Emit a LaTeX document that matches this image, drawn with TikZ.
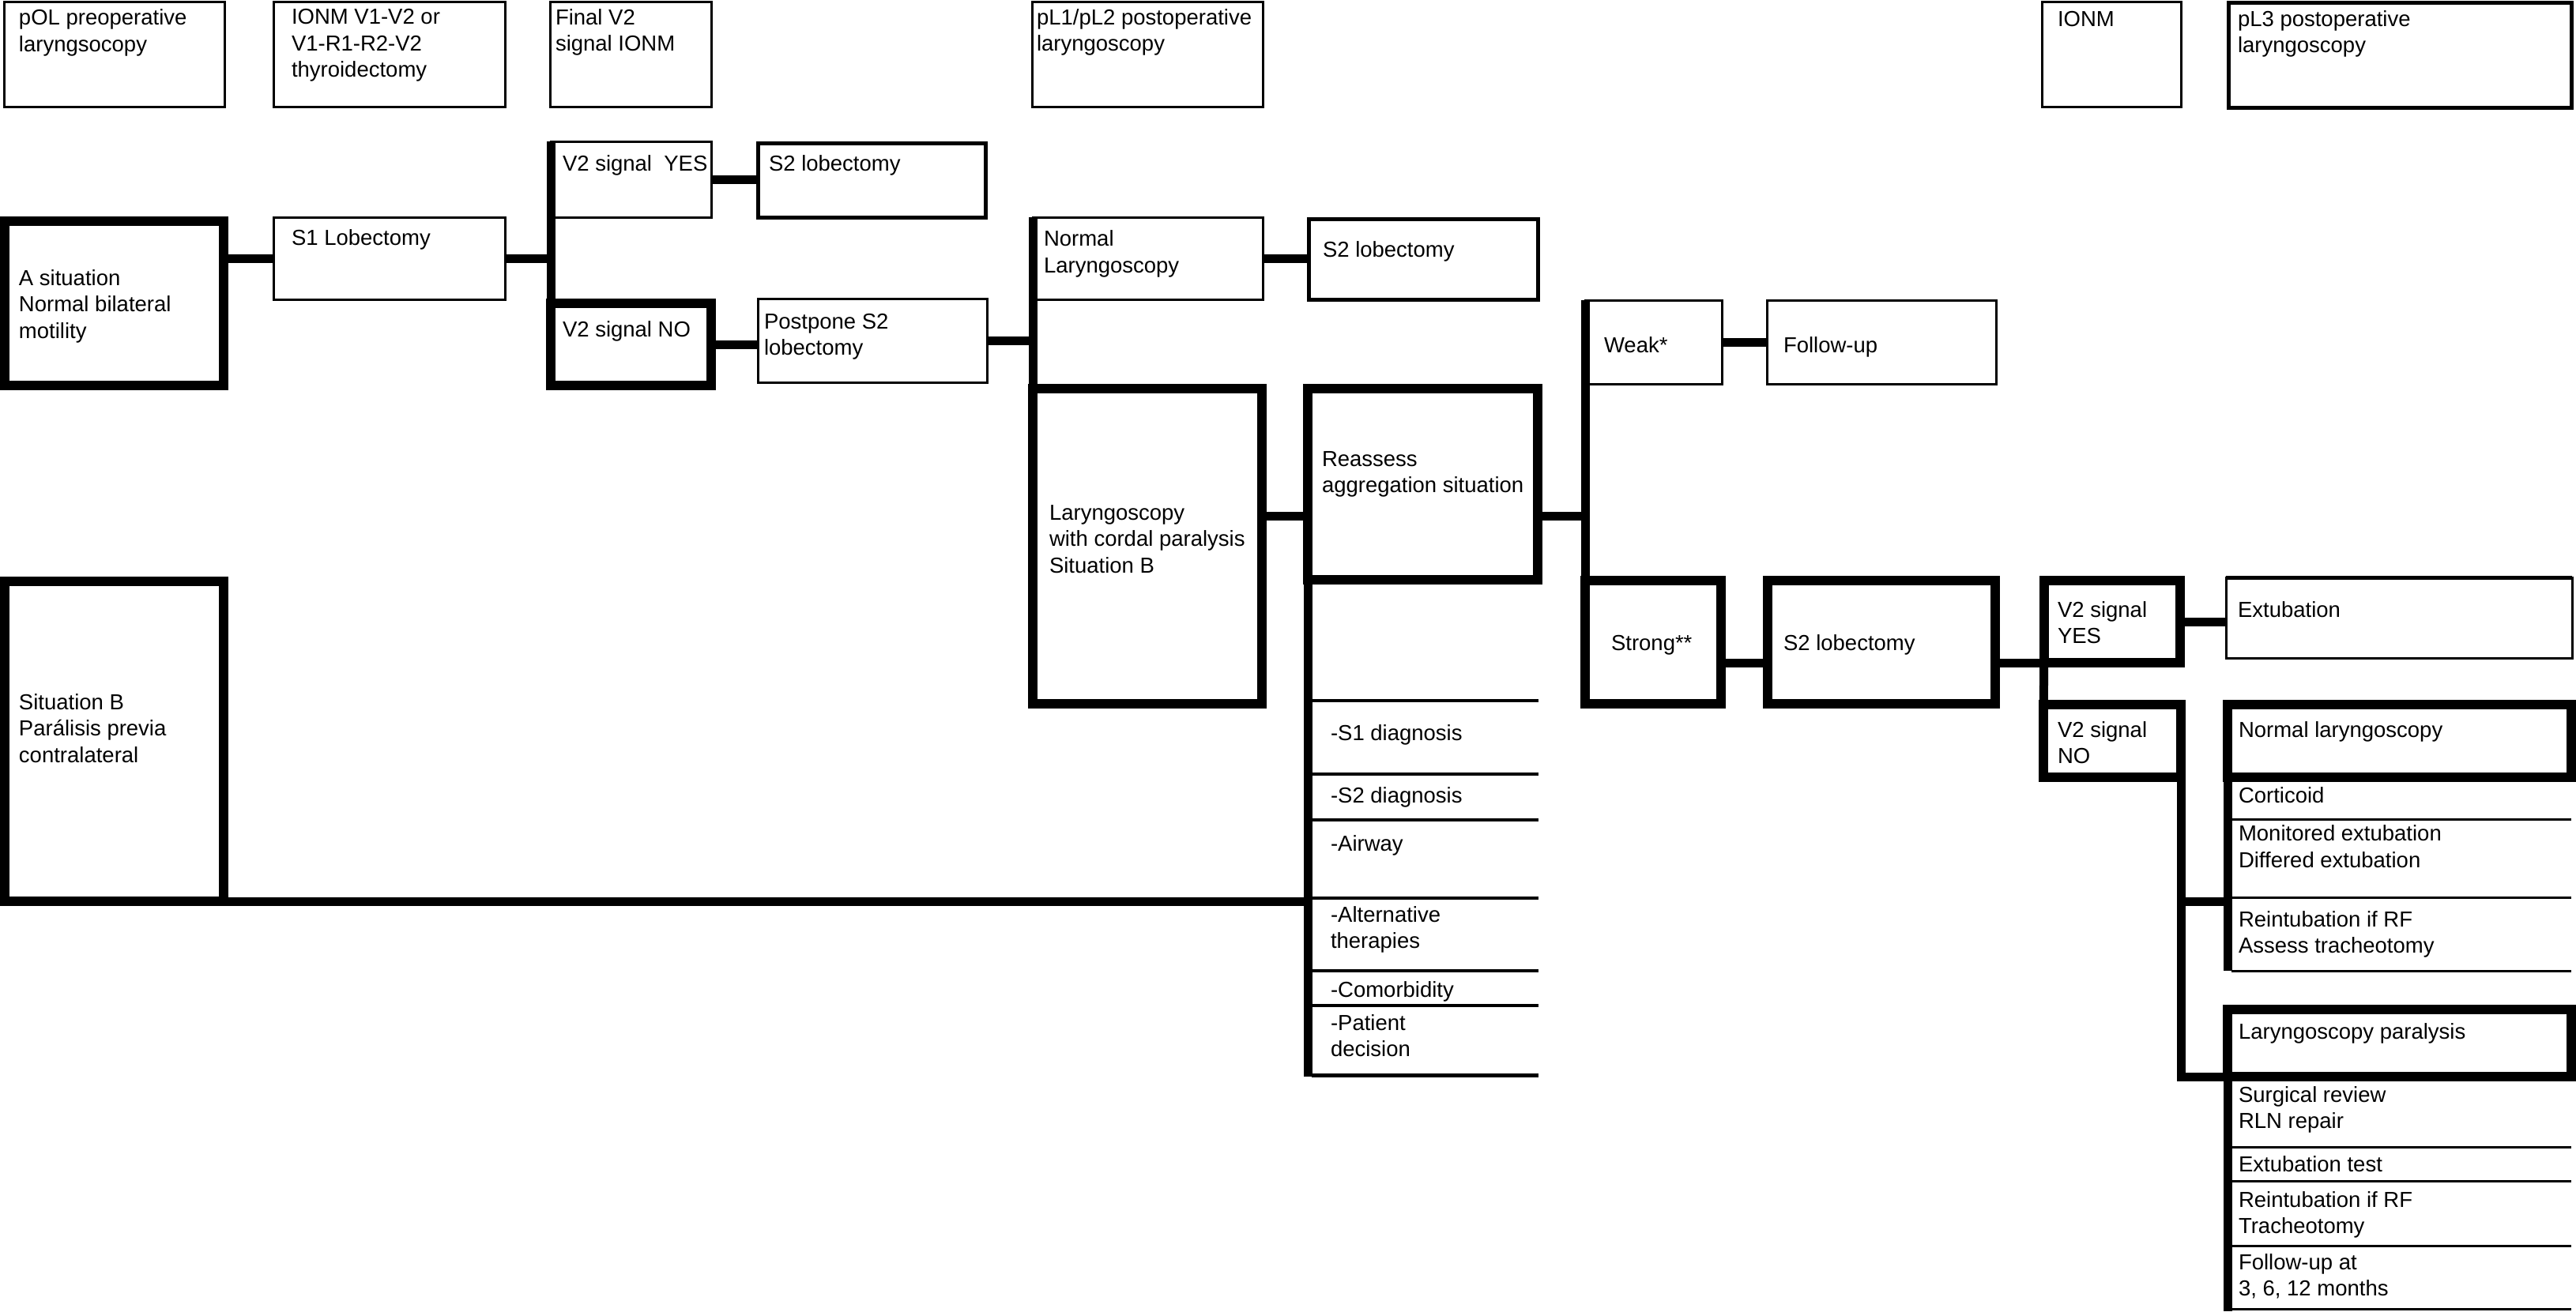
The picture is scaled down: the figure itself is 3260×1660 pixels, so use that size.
\documentclass[tikz,border=0pt]{standalone}
\usepackage{fontspec}
\setmainfont{Liberation Sans}
\usetikzlibrary{fit,calc}
\tikzset{
  box/.style={draw=black, fill=white, inner sep=0pt, outer sep=0pt, line width=1.5pt},
  medbox/.style={box, line width=2.5pt},
  thickbox/.style={box, line width=5.75pt},
  conn/.style={draw=black, line width=5.5pt},
  listrule/.style={draw=black, line width=2pt},
  thinrule/.style={draw=black, line width=1.5pt},
  % anchor base west = baseline of the LAST line of the node
  txt/.style={anchor=base west, inner sep=0pt, outer sep=0pt, align=left,
    font=\fontsize{13.75pt}{16.75pt}\selectfont},
}
\begin{document}
\begin{tikzpicture}[x=0.5pt,y=-0.5pt]
\useasboundingbox (0,0) rectangle (3260,1660);
\fill[white] (0,0) rectangle (3260,1660);

% ---------- header row ----------
\node[box,fit={(5,2) (284,135)}] (h1) {};
\node[box,fit={(346,2) (639,135)}] (h2) {};
\node[box,fit={(696,2) (900,135)}] (h3) {};
\node[box,fit={(1306,2) (1598,135)}] (h4) {};
\node[box,fit={(2584,2) (2760,135)}] (h5) {};
\node[medbox,fit={(2820,3) (3254,136)}] (h6) {};

% ---------- boxes ----------
\node[thickbox,fit={(6,280) (283,488)}] (asit) {};
\node[box,fit={(346,275) (639,379)}] (s1) {};
\node[box,fit={(697,179) (900,275)}] (v2yes) {};
\node[thickbox,fit={(697,384) (900,488)}] (v2no) {};
\node[medbox,fit={(959,181) (1247,275)}] (s2a) {};
\node[box,fit={(959,378) (1249,484)}] (post) {};
\node[box,fit={(1307,275) (1598,379)}] (nlar) {};
\node[medbox,fit={(1656,277) (1946,379)}] (s2b) {};
\node[thickbox,fit={(1307,492) (1597,891)}] (cordal) {};
\node[thickbox,fit={(1655,492) (1946,734)}] (reass) {};
\node[thickbox,fit={(6,736) (283,1141)}] (sitb) {};
\node[box,fit={(2006,380) (2179,486)}] (weak) {};
\node[box,fit={(2236,380) (2526,486)}] (follow) {};
\node[thickbox,fit={(2006,735) (2178,891)}] (strong) {};
\node[thickbox,fit={(2237,735) (2525,891)}] (s2c) {};
\node[thickbox,fit={(2587,735) (2759,839)}] (v2yesb) {};
\node[thickbox,fit={(2586,892) (2760,984)}] (v2nob) {};
\node[box,fit={(2817,731) (3255,833)}] (extub) {};
\node[thickbox,fit={(2819,892) (3254,984)}] (nlar2) {};
\node[thickbox,fit={(2819,1278) (3254,1363)}] (lpar) {};

\draw[line width=2.5pt] (extub.north west) -- (extub.north east);

% ---------- connectors ----------
\coordinate (jreass) at (1950,653);
\coordinate (jgroup) at (2790,1141);
\draw[conn] (asit.east |- s1.west) -- (s1.west);
\draw[conn] (s1.east) -- (s1.east -| v2yes.west);
\draw[conn] (v2yes.north west) -- (v2no.south west);
\draw[conn] (v2yes.east) -- (v2yes.east -| s2a.west);
\draw[conn] (v2no.east) -- (v2no.east -| post.west);
\draw[conn] (post.east) -- (post.east -| nlar.west);
\draw[conn] (nlar.north west) -- (cordal.south west);
\draw[conn] (nlar.east) -- (nlar.east -| s2b.west);
\draw[conn] (cordal.east |- jreass) -- (reass.west |- jreass);
\draw[conn] (reass.east |- jreass) -- (weak.west |- jreass);
\draw[conn] (weak.north west) -- (strong.south west);
\draw[conn] (weak.east) -- (weak.east -| follow.west);
\draw[conn] (strong.east |- v2yesb.south) -- (s2c.west |- v2yesb.south);
\draw[conn] (s2c.east |- v2yesb.south) -- (v2yesb.south west);
\draw[conn] (v2yesb.north west) -- (v2nob.south west);
\draw[conn] (v2yesb.east) -- (v2yesb.east -| extub.west);
\draw[conn] (v2nob.north east) -- (v2nob.east |- lpar.south) -- (lpar.south west);
\draw[conn] (v2nob.east |- jgroup) -- (nlar2.west |- jgroup);
% situation B bus and list
\coordinate (listend) at (1655,1363);
\draw[conn] (sitb.south east) -- (reass.south west |- sitb.south);
\draw[conn] (reass.south west) -- (listend);
\foreach \yy in {887,980,1038,1137,1229,1273} {
  \draw[listrule] (1660,\yy) -- (1947,\yy);
}
\draw[listrule, line width=2.5pt] (1660,1361) -- (1947,1361);

% group 1 (normal laryngoscopy)
\coordinate (g1end) at (2819,1229);
\draw[conn] (nlar2.south west) -- (g1end);
\foreach \yy in {1037,1136,1229} {
  \draw[thinrule] (2824,\yy) -- (3254,\yy);
}
% group 2 (laryngoscopy paralysis)
\coordinate (g2end) at (2819,1660);
\draw[conn] (lpar.south west) -- (g2end);
\foreach \yy in {1452,1495,1577,1657} {
  \draw[thinrule] (2824,\yy) -- (3254,\yy);
}

% ---------- texts (positions = baseline of last line) ----------
\node[txt] (th1) at (24,65) {pOL preoperative\\laryngsocopy};
\node[txt] (th2) at (369,97.5) {IONM V1-V2 or\\V1-R1-R2-V2\\thyroidectomy};
\node[txt] (th3) at (703,64.5) {Final V2\\signal IONM};
\node[txt] (th4) at (1312,64.5) {pL1/pL2 postoperative\\laryngoscopy};
\node[txt] (th5) at (2604,33) {IONM};
\node[txt] (th6) at (2832,66.5) {pL3 postoperative\\laryngoscopy};

\node[txt] (tasit) at (24,428) {A situation\\Normal bilateral\\motility};
\node[txt] (ts1) at (369,310) {S1 Lobectomy};
\node[txt] (tv2yes) at (712,216) {V2 signal\ \ YES};
\node[txt] (tv2no) at (712,426) {V2 signal NO};
\node[txt] (ts2a) at (973,216) {S2 lobectomy};
\node[txt] (tpost) at (967,449.5) {Postpone S2\\lobectomy};
\node[txt] (tnlar) at (1321,345) {Normal\\Laryngoscopy};
\node[txt] (ts2b) at (1674,325) {S2 lobectomy};
\node[txt] (tcordal) at (1328,725) {Laryngoscopy\\with cordal paralysis\\Situation B};
\node[txt] (treass) at (1673,623.5) {Reassess\\aggregation situation};
\node[txt] (tsitb) at (24,965) {Situation B\\Parálisis previa\\contralateral};

\node[txt] (tl1) at (1684,937) {-S1 diagnosis};
\node[txt] (tl2) at (1684,1016) {-S2 diagnosis};
\node[txt] (tl3) at (1684,1077) {-Airway};
\node[txt] (tl4) at (1684,1200.5) {-Alternative\\therapies};
\node[txt] (tl5) at (1684,1262) {-Comorbidity};
\node[txt] (tl6) at (1684,1337.5) {-Patient\\decision};

\node[txt] (tweak) at (2030,446) {Weak*};
\node[txt] (tfollow) at (2257,446) {Follow-up};
\node[txt] (tstrong) at (2039,823) {Strong**};
\node[txt] (ts2c) at (2257,823) {S2 lobectomy};
\node[txt] (tv2yesb) at (2604,814.5) {V2 signal\\YES};
\node[txt] (textub) at (2832,781) {Extubation};
\node[txt] (tv2nob) at (2604,966.5) {V2 signal\\NO};

\node[txt] (tg11) at (2833,933) {Normal laryngoscopy};
\node[txt] (tg12) at (2833,1016) {Corticoid};
\node[txt] (tg13) at (2833,1098) {Monitored extubation\\Differed extubation};
\node[txt] (tg14) at (2833,1206.5) {Reintubation if RF\\Assess tracheotomy};

\node[txt] (tg21) at (2833,1315) {Laryngoscopy paralysis};
\node[txt] (tg22) at (2833,1428.5) {Surgical review\\RLN repair};
\node[txt] (tg23) at (2833,1483) {Extubation test};
\node[txt] (tg24) at (2833,1561.5) {Reintubation if RF\\Tracheotomy};
\node[txt] (tg25) at (2833,1640.5) {Follow-up at\\3, 6, 12 months};
\end{tikzpicture}
\end{document}
